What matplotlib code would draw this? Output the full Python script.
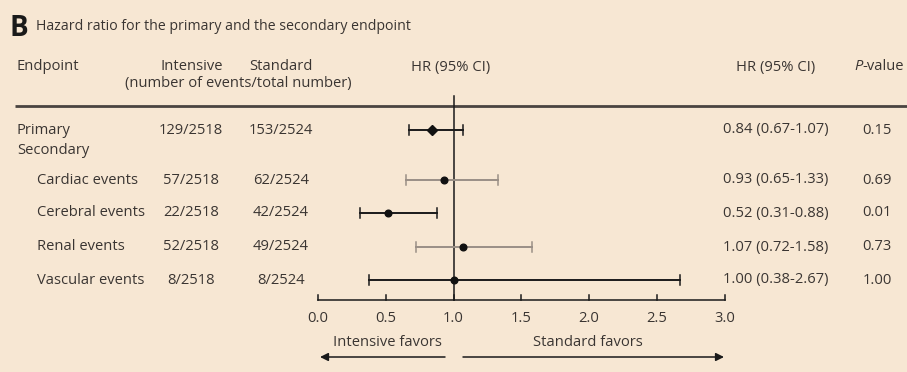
import matplotlib
matplotlib.use("Agg")
import matplotlib.pyplot as plt
import matplotlib.transforms as mtransforms

# ---- data -------------------------------------------------------------
endpoints = ["Primary", "Cardiac events", "Cerebral events", "Renal events", "Vascular events"]
indent = [False, True, True, True, True]
intensive = ["129/2518", "57/2518", "22/2518", "52/2518", "8/2518"]
standard = ["153/2524", "62/2524", "42/2524", "49/2524", "8/2524"]
hr = [0.84, 0.93, 0.52, 1.07, 1.00]
ci_low = [0.67, 0.65, 0.31, 0.72, 0.38]
ci_high = [1.07, 1.33, 0.88, 1.58, 2.67]
p_values = ["0.15", "0.69", "0.01", "0.73", "1.00"]
x_ticks = [0.0, 0.5, 1.0, 1.5, 2.0, 2.5, 3.0]

# ---- layout -----------------------------------------------------------
W, H = 907, 372
BG = "#f7e7d3"
TXT = "#3a3532"
FS = 10.6
row_y = [130, 180, 213, 247, 280]
secondary_y = 150
x0_px, unit_px = 318.0, 135.5          # pixel position of HR=0 and pixels per HR unit
axis_y = 300

plt.rcParams["font.family"] = ["Open Sans", "DejaVu Sans"]
plt.rcParams["mathtext.fontset"] = "custom"
plt.rcParams["mathtext.rm"] = "Open Sans"
plt.rcParams["mathtext.it"] = "Open Sans:italic"

fig = plt.figure(figsize=(W / 100, H / 100), dpi=100, facecolor=BG)
ax = fig.add_axes([0, 0, 1, 1])
ax.set_facecolor(BG)
ax.set_xlim(-x0_px / unit_px, (W - x0_px) / unit_px)
ax.set_ylim(H, 0)
ax.axis("off")

# x in figure pixels, y in the shared pixel rows
tr = mtransforms.blended_transform_factory(ax.transAxes, ax.transData)


def txt(xp, yp, s, ha="left", size=FS, **kw):
    ax.text(xp / W, yp, s, transform=tr, ha=ha, va="center", fontsize=size,
            color=kw.pop("color", TXT), **kw)


# title
txt(9, 28, "B", size=20, weight="bold", color="#1a1a1a")
txt(36, 27, "Hazard ratio for the primary and the secondary endpoint", size=10.2)

# headers
txt(17, 67, "Endpoint")
txt(192, 67, "Intensive", ha="center")
txt(281, 67, "Standard", ha="center")
txt(238, 83, "(number of events/total number)", ha="center")
txt(451, 67, "HR (95% CI)", ha="center")
txt(776, 67, "HR (95% CI)", ha="center")
ax.text(854 / W, 67, "P", transform=tr, ha="left", va="center", fontsize=FS,
        color=TXT, style="italic")
txt(862, 67, "-value")

# header rule
ax.plot([15 / W, 1.0], [106, 106], transform=tr, color="#4a4440", lw=2.0,
        solid_capstyle="butt")

# reference line at HR = 1
ax.plot([1.0, 1.0], [96, axis_y], color="#1a1a1a", lw=1.1)

# rows
txt(17, secondary_y, "Secondary")
ci_colors = ["#1a1a1a", "#9a8f86", "#1a1a1a", "#9a8f86", "#1a1a1a"]
for i, name in enumerate(endpoints):
    y = row_y[i]
    txt(37 if indent[i] else 17, y, name)
    txt(191, y, intensive[i], ha="center")
    txt(281, y, standard[i], ha="center")
    txt(776, y, f"{hr[i]:.2f} ({ci_low[i]:.2f}-{ci_high[i]:.2f})", ha="center")
    txt(877, y, p_values[i], ha="center")

    c = ci_colors[i]
    ax.plot([ci_low[i], ci_high[i]], [y, y], color=c, lw=1.4)
    for v in (ci_low[i], ci_high[i]):
        ax.plot([v, v], [y - 5, y + 5], color=c, lw=1.1)
    if i == 0:
        ax.plot(hr[i], y, marker="D", ms=5.5, color="#111111")
    else:
        ax.plot(hr[i], y, marker="o", ms=4.8, color="#111111")

# x axis
ax.plot([x_ticks[0], x_ticks[-1]], [axis_y, axis_y], color="#1a1a1a", lw=1.1)
for t in x_ticks:
    ax.plot([t, t], [axis_y, axis_y - 5], color="#1a1a1a", lw=1.1)
    ax.text(t, axis_y + 19, f"{t:.1f}", ha="center", va="center", fontsize=FS,
            color=TXT)

# favour labels and arrows
txt(387, 342, "Intensive favors", ha="center")
txt(588, 342, "Standard favors", ha="center")
ax.annotate("", xy=(320 / W, 357), xytext=(445 / W, 357),
            xycoords=tr, textcoords=tr,
            arrowprops=dict(arrowstyle="-|>", color="#1a1a1a", lw=1.1,
                            mutation_scale=12, shrinkA=0, shrinkB=0))
ax.annotate("", xy=(724 / W, 357), xytext=(463 / W, 357),
            xycoords=tr, textcoords=tr,
            arrowprops=dict(arrowstyle="-|>", color="#1a1a1a", lw=1.1,
                            mutation_scale=12, shrinkA=0, shrinkB=0))

fig.savefig("out.png", dpi=100, facecolor=BG)
